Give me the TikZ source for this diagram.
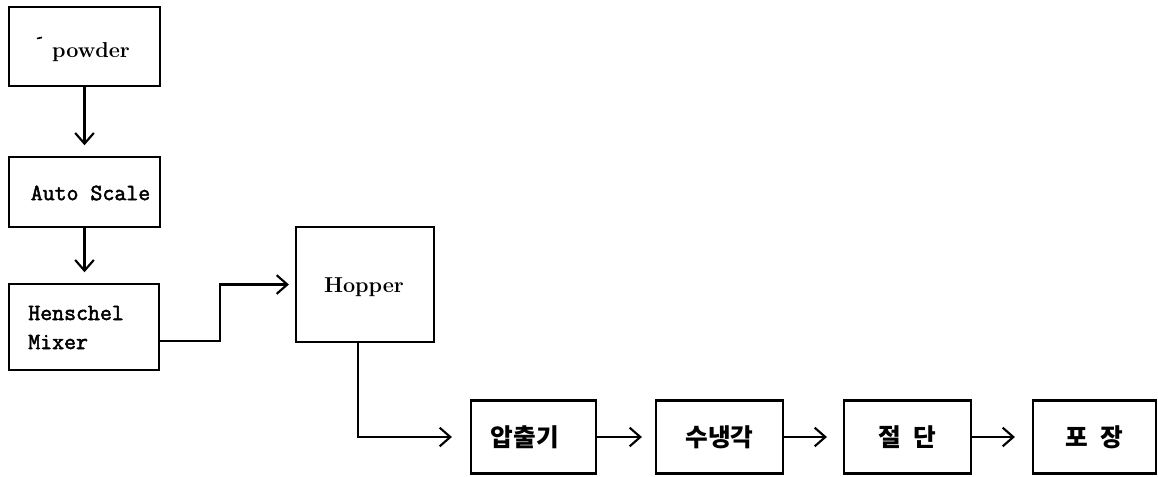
\documentclass[tikz,border=0pt]{standalone}
\usepackage{fontspec}
\newfontfamily\krfont{Noto Sans CJK KR}
\newfontfamily\monof{Latin Modern Mono}[AutoFakeBold=2.2]
\usetikzlibrary{arrows.meta}
\begin{document}
\begin{tikzpicture}[x=0.75pt,y=-0.75pt,
  box/.style={draw, line width=1.6pt, inner sep=0pt},
  sz/.style 2 args={minimum width=#1*0.75pt, minimum height=#2*0.75pt},
  arr/.style={line width=1.6pt, -{Straight Barb[length=8pt,width=14pt,line width=1.6pt]}},
  latin/.style={inner sep=0pt, font=\bfseries\fontsize{16.2}{21.75}\selectfont},
  mono/.style={inner sep=0pt, font=\monof\bfseries\fontsize{17.4}{21.75}\selectfont},
  korean/.style={inner sep=0pt, font=\krfont\bfseries\fontsize{18.5}{22}\selectfont}]
\useasboundingbox (0,0) rectangle (1158,476);
% boxes
\node[box, sz={151}{79}] (powder) at (84.5,46.5) {};
\node[box, sz={151}{70}] (autoscale) at (84.5,192) {};
\node[box, sz={150}{86}] (henschel) at (84,327) {};
\node[box, sz={138}{115}] (hopper) at (365,284.5) {};
\node[box, sz={125}{73}] (extruder) at (533.5,437) {};
\node[box, sz={127}{73}] (cooling) at (719.5,437) {};
\node[box, sz={127}{73}] (cutting) at (907.5,437) {};
\node[box, sz={123}{73}] (packing) at (1094.5,437) {};
% texts
\node[latin] (powdert) at (91,52) {powder};
\node[mono] (autoscalet) at (90.5,193) {Auto Scale};
\node[mono, anchor=west, align=left] (henschelt) at (28,327.5) {Henschel\\Mixer};
\node[latin] (hoppert) at (364,287) {Hopper};
\node[korean] (extrudert) at (525,437) {압출기};
\node[korean] (coolingt) at (cooling) {수냉각};
\node[korean] (cuttingt) at (cutting) {절\hspace{0.5em}단};
\node[korean] (packingt) at (packing) {포\hspace{0.5em}장};
\draw[line width=1.2pt] (37,38.5) -- (42,37.5);
% connectors
\draw[arr, shorten >=8pt] (powder.south) -- (powder.south |- autoscale.north);
\draw[arr, shorten >=8pt] (autoscale.south) -- (autoscale.south |- henschel.north);
\coordinate (k1) at (220,341);
\draw[arr, shorten >=4.5pt] (henschel.east |- k1) -- (k1) |- (hopper.west);
\coordinate (k2) at (358,437);
\draw[arr, shorten >=13.5pt] (hopper.south -| k2) |- (extruder.west);
\draw[arr, shorten >=9.75pt] (extruder) -- (cooling);
\draw[arr, shorten >=12pt] (cooling) -- (cutting);
\draw[arr, shorten >=12.75pt] (cutting) -- (packing);
\end{tikzpicture}
\end{document}
